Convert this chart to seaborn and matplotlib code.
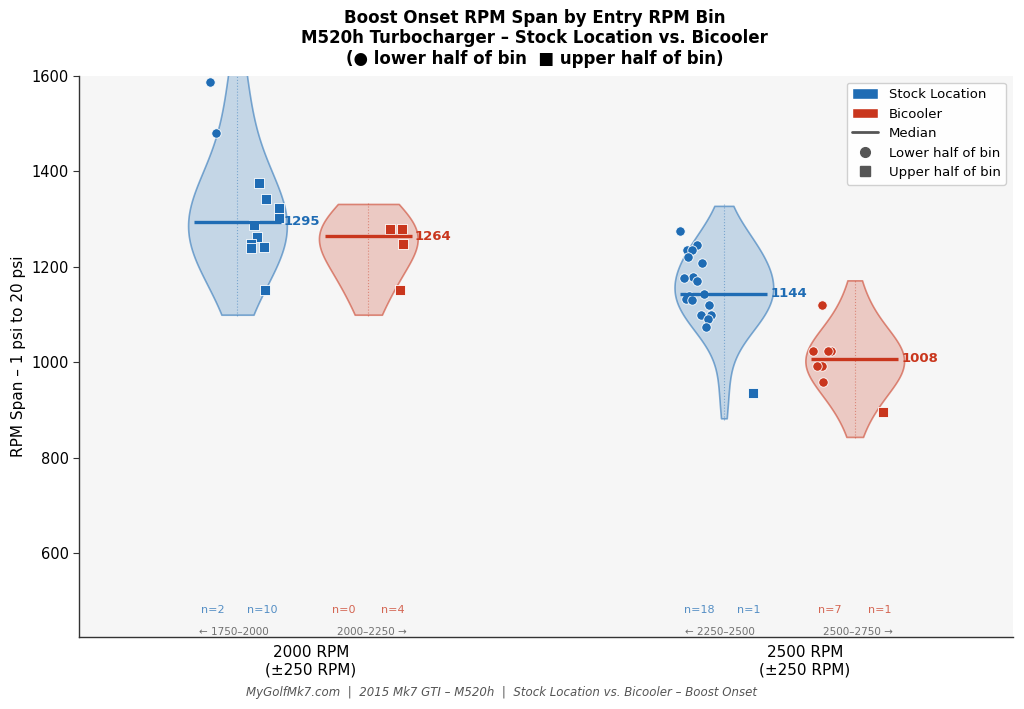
import numpy as np
import pandas as pd
import matplotlib
matplotlib.use("Agg")
import matplotlib.pyplot as plt
import matplotlib.transforms as mtransforms
from matplotlib.colors import to_rgba
from matplotlib.patches import Patch
from matplotlib.lines import Line2D
import seaborn as sns

# --- data ---
bin_labels = ["2000 RPM\n(±250 RPM)", "2500 RPM\n(±250 RPM)"]
setups = ["Stock Location", "Bicooler"]
range_labels_2000 = ["← 1750–2000", "2000–2250 →"]
range_labels_2500 = ["← 2250–2500", "2500–2750 →"]

stock_2000_lower = [1588, 1480]
stock_2000_upper = [1375, 1343, 1324, 1302, 1288, 1262, 1248, 1241, 1240, 1152]
bicooler_2000_lower = []
bicooler_2000_upper = [1280, 1280, 1248, 1152]
stock_2500_lower = [1276, 1246, 1235, 1235, 1220, 1208, 1180, 1177, 1170,
                    1144, 1140, 1133, 1130, 1121, 1100, 1100, 1092, 1074]
stock_2500_upper = [935]
bicooler_2500_lower = [1120, 1024, 1024, 1024, 992, 992, 960]
bicooler_2500_upper = [896]

rows = []
for b, s, half, vals in [
    (bin_labels[0], setups[0], "lower", stock_2000_lower),
    (bin_labels[0], setups[0], "upper", stock_2000_upper),
    (bin_labels[0], setups[1], "lower", bicooler_2000_lower),
    (bin_labels[0], setups[1], "upper", bicooler_2000_upper),
    (bin_labels[1], setups[0], "lower", stock_2500_lower),
    (bin_labels[1], setups[0], "upper", stock_2500_upper),
    (bin_labels[1], setups[1], "lower", bicooler_2500_lower),
    (bin_labels[1], setups[1], "upper", bicooler_2500_upper),
]:
    for v in vals:
        rows.append({"bin": b, "setup": s, "half": half, "span": v})
df = pd.DataFrame(rows)

# --- style / layout ---
colors = {"Stock Location": "#1f6cb4", "Bicooler": "#c9361d"}
bin_pos = {bin_labels[0]: 0.0, bin_labels[1]: 0.985}
setup_off = {"Stock Location": -0.149, "Bicooler": 0.116}
half_off = {"lower": -0.058, "upper": 0.058}
half_marker = {"lower": "o", "upper": "s"}
range_labels = {bin_labels[0]: range_labels_2000, bin_labels[1]: range_labels_2500}
bw_adjust = 1.45

sns.set_style("white")
plt.rcParams["font.family"] = ["DejaVu Sans"]
plt.rcParams["text.color"] = "black"
plt.rcParams["axes.labelcolor"] = "black"
plt.rcParams["xtick.color"] = "black"
plt.rcParams["ytick.color"] = "black"
np.random.seed(3)

fig = plt.figure(figsize=(10.24, 7.09), dpi=100)
ax = fig.add_axes([0.0771, 0.1016, 0.9119, 0.7912])
ax.set_facecolor("#f6f6f6")

blend = mtransforms.blended_transform_factory(ax.transData, ax.transAxes)

for b in bin_labels:
    for s in setups:
        sub = df[(df["bin"] == b) & (df["setup"] == s)]
        vals = sub["span"].to_numpy(dtype=float)
        c = colors[s]
        center = bin_pos[b] + setup_off[s]

        # violin (support extends ~52 rpm past the data)
        bw = np.std(vals, ddof=1) * len(vals) ** (-0.2) * bw_adjust
        n0 = len(ax.collections)
        sns.violinplot(x=np.full(len(vals), center), y=vals, native_scale=True,
                       orient="x", width=0.2, density_norm="width",
                       bw_adjust=bw_adjust, cut=52 / bw, inner=None, color=c, ax=ax)
        for coll in ax.collections[n0:]:
            coll.set_facecolor(to_rgba(c, 0.23))
            coll.set_edgecolor(to_rgba(c, 0.55))
            coll.set_linewidth(1.2)
        ax.vlines(center, vals.min() - 55, vals.max() + 55, colors=c,
                  linestyles=":", linewidth=0.8, alpha=0.45, zorder=1)

        # points per half of bin
        for half in ["lower", "upper"]:
            h = sub[sub["half"] == half]
            if len(h):
                sns.stripplot(x=np.full(len(h), center + half_off[half]),
                              y=h["span"].to_numpy(dtype=float), native_scale=True,
                              orient="x", jitter=0.033, marker=half_marker[half],
                              size=6.8, color=c, edgecolor="white", linewidth=0.6,
                              ax=ax, zorder=4)
            ax.text(center + (-0.05 if half == "lower" else 0.05), 0.048,
                    f"n={len(h)}", transform=blend, ha="center", va="center",
                    fontsize=8, color=c, alpha=0.75)

        # median
        med = np.median(vals)
        ax.hlines(med, center - 0.088, center + 0.088, colors=c, linewidth=2.4, zorder=5)
        ax.text(center + 0.094, med, f"{med:.0f}", color=c, fontsize=9.5,
                fontweight="bold", va="center", ha="left", zorder=6)

    # bin range labels
    ax.text(bin_pos[b] + setup_off["Stock Location"] - 0.007, 0.009, range_labels[b][0],
            transform=blend, ha="center", va="center", fontsize=7.5, color="#707070")
    ax.text(bin_pos[b] + setup_off["Bicooler"] + 0.007, 0.009, range_labels[b][1],
            transform=blend, ha="center", va="center", fontsize=7.5, color="#707070")

ax.set_xlim(-0.47, 1.421)
ax.set_ylim(425, 1600)
ax.set_xticks([0.0, 1.0])
ax.set_xticklabels(bin_labels, fontsize=11)
ax.set_yticks([600, 800, 1000, 1200, 1400, 1600])
ax.tick_params(axis="y", labelsize=10.5, length=4, left=True, color="#333333")
ax.tick_params(axis="x", length=0, pad=6)
ax.set_xlabel("")
ax.set_ylabel("RPM Span – 1 psi to 20 psi", fontsize=11)
for side in ["top", "right"]:
    ax.spines[side].set_visible(False)
for side in ["left", "bottom"]:
    ax.spines[side].set_color("#333333")
    ax.spines[side].set_linewidth(1.0)

fig.suptitle("Boost Onset RPM Span by Entry RPM Bin\n"
             "M520h Turbocharger – Stock Location vs. Bicooler\n"
             "(● lower half of bin  ■ upper half of bin)",
             x=0.522, y=0.988, va="top", fontsize=12, fontweight="bold")

handles = [
    Patch(facecolor=colors["Stock Location"], label="Stock Location"),
    Patch(facecolor=colors["Bicooler"], label="Bicooler"),
    Line2D([], [], color="#555555", linewidth=2, label="Median"),
    Line2D([], [], color="#555555", marker="o", linestyle="", markersize=7,
           label="Lower half of bin"),
    Line2D([], [], color="#555555", marker="s", linestyle="", markersize=7,
           label="Upper half of bin"),
]
ax.legend(handles=handles, loc="upper right", fontsize=9.5, frameon=True,
          framealpha=0.9, edgecolor="#cccccc", handleheight=0.9)

fig.text(0.49, 0.023, "MyGolfMk7.com  |  2015 Mk7 GTI – M520h  |  "
         "Stock Location vs. Bicooler – Boost Onset",
         ha="center", va="center", fontsize=8.5, style="italic", color="#555555")

fig.savefig("out.png", dpi=100)
